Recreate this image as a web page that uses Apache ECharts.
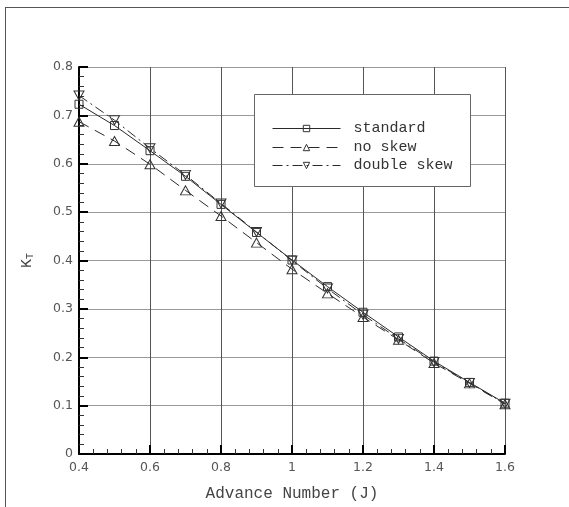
<!DOCTYPE html>
<html>
<head>
<meta charset="utf-8">
<script src="https://cdn.jsdelivr.net/npm/echarts@6/dist/echarts.min.js"></script>
<style>html,body{margin:0;padding:0;background:#fff;}#c{width:569px;height:507px;}</style>
</head>
<body>
<div id="c"></div>
<script>
var advance = [0.4, 0.5, 0.6, 0.7, 0.8, 0.9, 1.0, 1.1, 1.2, 1.3, 1.4, 1.5, 1.6];
var standard = [0.723, 0.679, 0.627, 0.574, 0.516, 0.458, 0.401, 0.346, 0.293, 0.242, 0.192, 0.148, 0.105];
var noSkew = [0.687, 0.647, 0.599, 0.545, 0.492, 0.437, 0.382, 0.332, 0.283, 0.236, 0.188, 0.146, 0.103];
var doubleSkew = [0.741, 0.690, 0.632, 0.577, 0.518, 0.459, 0.400, 0.342, 0.288, 0.238, 0.190, 0.147, 0.104];
var seriesNames = ['standard', 'no skew', 'double skew'];

function pairs(ys) { return advance.map(function (x, i) { return [x, ys[i]]; }); }

var chart = echarts.init(document.getElementById('c'), null, { renderer: 'canvas' });
var lineColor = '#2a2a2a';
var mono = "'Liberation Mono', 'DejaVu Sans Mono', monospace";
var downTri = 'path://M0,0 L10,0 L5,9 Z';

function legendAt(name, top) {
  return {
    show: true, orient: 'vertical', left: 272, top: top, z: 20,
    itemWidth: 68, itemHeight: 8, padding: 0,
    data: [name],
    lineStyle: { width: 1 },
    itemStyle: { borderWidth: 1 },
    textStyle: { fontFamily: mono, fontSize: 15, color: '#333', padding: [0, 0, 0, 8] },
    inactiveColor: '#333'
  };
}

chart.setOption({
  animation: false,
  backgroundColor: '#fff',
  grid: { left: 79, right: 64, top: 67, bottom: 52 },
  legend: [legendAt(seriesNames[0], 121), legendAt(seriesNames[1], 140), legendAt(seriesNames[2], 158)],
  graphic: [
    { type: 'line', shape: { x1: 5.5, y1: 7, x2: 5.5, y2: 507 }, style: { stroke: '#555', lineWidth: 1 }, z: 1 },
    { type: 'line', shape: { x1: 5, y1: 7.5, x2: 569, y2: 7.5 }, style: { stroke: '#555', lineWidth: 1 }, z: 1 },
    { type: 'rect', shape: { x: 254.5, y: 94.5, width: 216, height: 92 }, style: { fill: '#fff', stroke: '#666', lineWidth: 1 }, z: 15 }
  ],
  xAxis: {
    type: 'value', min: 0.4, max: 1.6, interval: 0.2,
    name: 'Advance Number (J)', nameLocation: 'middle', nameGap: 32,
    nameTextStyle: { fontFamily: mono, fontSize: 16, color: '#444' },
    axisLine: { show: true, onZero: false, lineStyle: { color: '#000', width: 2 } },
    axisTick: { show: true, inside: true, length: 9, lineStyle: { color: '#000', width: 2 } },
    minorTick: { show: true, splitNumber: 5, length: 5, lineStyle: { color: '#333', width: 1 } },
    axisLabel: { margin: 7, fontFamily: "'DejaVu Sans', sans-serif", fontSize: 12.5, color: '#555',
      formatter: function (v) { return String(+v.toFixed(1)); } },
    splitLine: { show: true, lineStyle: { color: '#555', width: 1 } }
  },
  yAxis: {
    type: 'value', min: 0, max: 0.8, interval: 0.1,
    name: '{k|K}{t|T}', nameLocation: 'middle', nameGap: 44, nameRotate: 90,
    nameTextStyle: { rich: {
      k: { fontFamily: mono, fontSize: 15, color: '#444' },
      t: { fontFamily: mono, fontSize: 10, color: '#444', verticalAlign: 'bottom', padding: [6, 0, 0, 0] }
    } },
    axisLine: { show: true, onZero: false, lineStyle: { color: '#000', width: 2 } },
    axisTick: { show: true, inside: true, length: 9, lineStyle: { color: '#000', width: 2 } },
    minorTick: { show: true, splitNumber: 5, length: 5, lineStyle: { color: '#333', width: 1 } },
    axisLabel: { margin: 6, fontFamily: "'DejaVu Sans', sans-serif", fontSize: 12.5, color: '#555',
      formatter: function (v) { return v === 0 ? '0' : (+v).toFixed(1); } },
    splitLine: { show: true, lineStyle: { color: '#999', width: 1 } }
  },
  series: [
    { name: seriesNames[0], type: 'line', data: pairs(standard), symbol: 'rect', symbolSize: 8,
      showAllSymbol: true, color: lineColor,
      lineStyle: { color: lineColor, width: 1, type: 'solid' },
      itemStyle: { color: 'rgba(255,255,255,0)', borderColor: '#333', borderWidth: 1 } },
    { name: seriesNames[1], type: 'line', data: pairs(noSkew), symbol: 'triangle', symbolSize: [10, 9],
      showAllSymbol: true, color: lineColor,
      lineStyle: { color: lineColor, width: 1, type: [11, 7] },
      itemStyle: { color: 'rgba(255,255,255,0)', borderColor: '#333', borderWidth: 1 } },
    { name: seriesNames[2], type: 'line', data: pairs(doubleSkew), symbol: downTri, symbolSize: [10, 9],
      showAllSymbol: true, color: lineColor,
      lineStyle: { color: lineColor, width: 1, type: [10, 4, 2, 4] },
      itemStyle: { color: 'rgba(255,255,255,0)', borderColor: '#333', borderWidth: 1 } }
  ]
});
</script>
</body>
</html>
